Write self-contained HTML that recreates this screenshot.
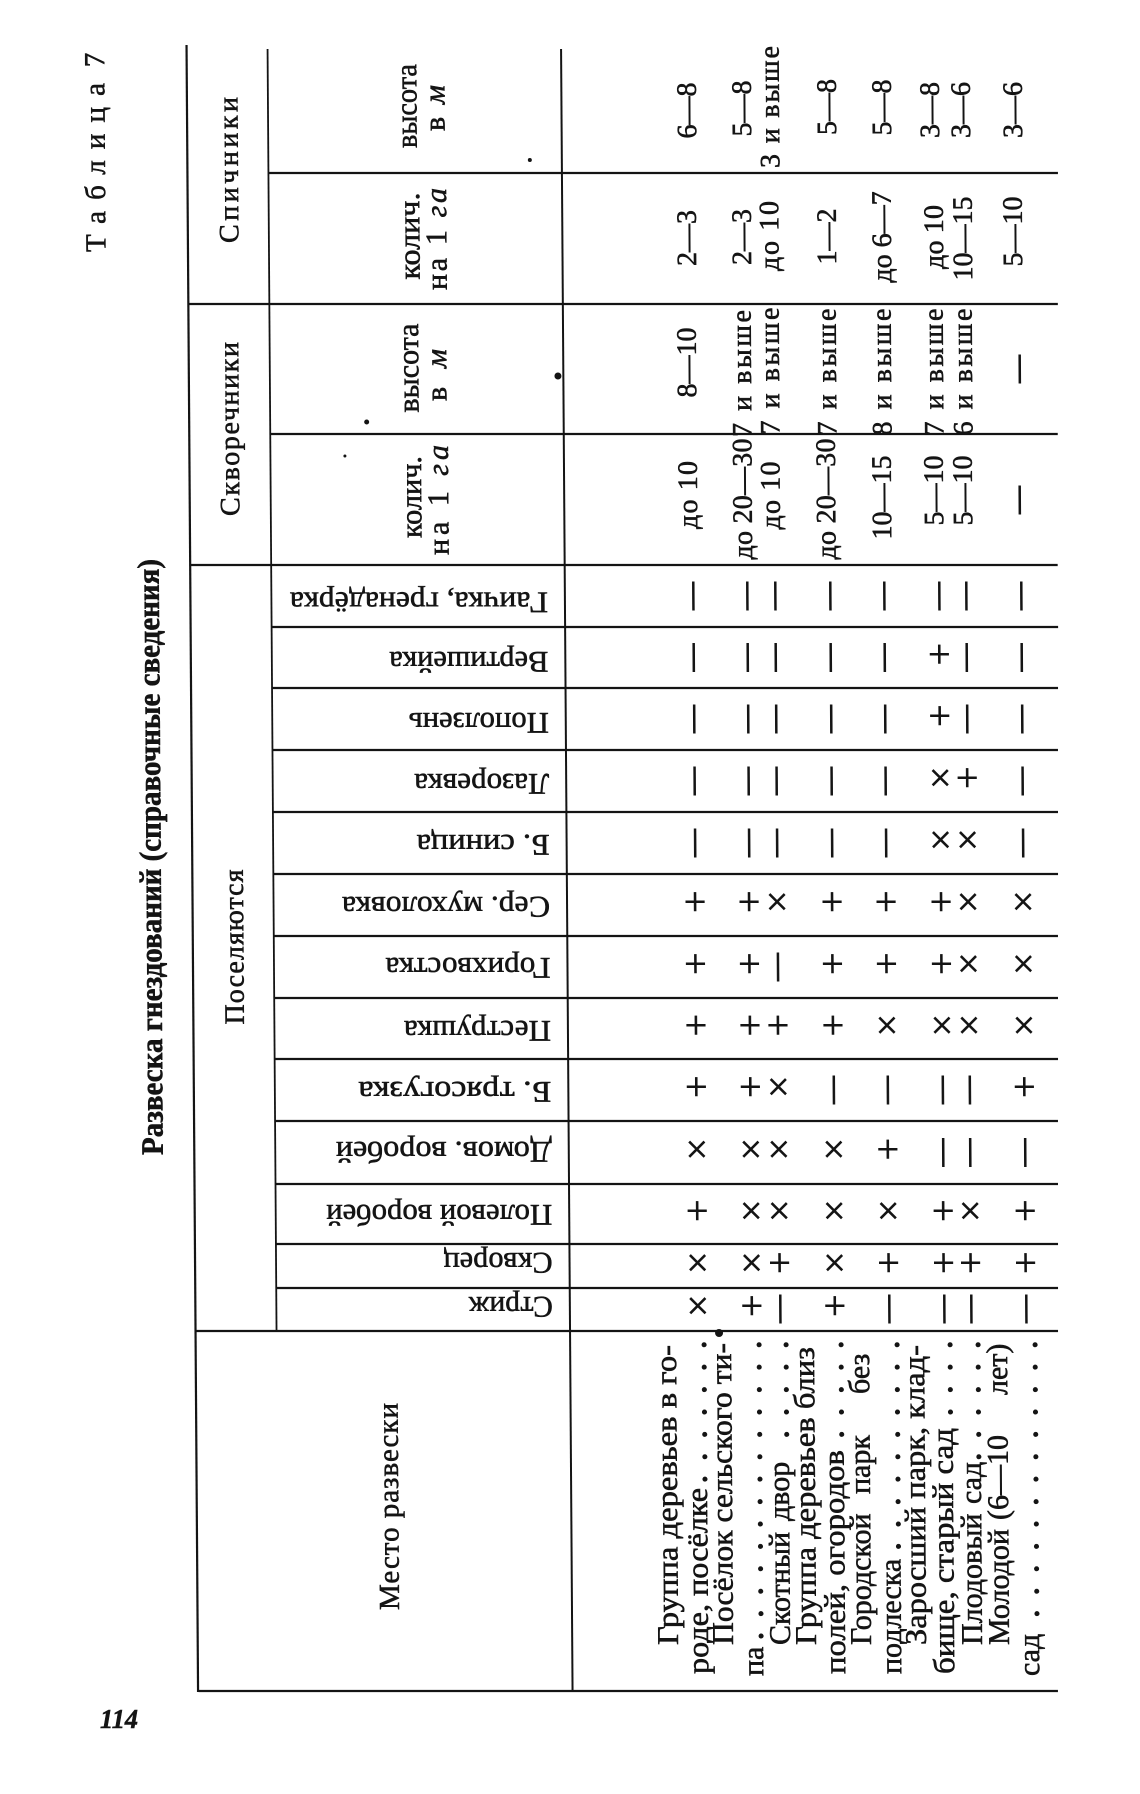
<!DOCTYPE html>
<html><head><meta charset="utf-8">
<style>
html,body{margin:0;padding:0;background:#fff;}
svg{display:block;}
text{font-family:"Liberation Serif","DejaVu Serif",serif;fill:#141414;stroke:#141414;stroke-width:0.55;}
</style></head><body>
<svg width="1140" height="1794" viewBox="0 0 1140 1794" xmlns="http://www.w3.org/2000/svg">
<rect width="1140" height="1794" fill="#fff"/>
<g transform="translate(-6.28,0) skewX(0.401)">
<!-- lines -->
<g stroke="#141414" stroke-width="2.2" fill="none">
<line x1="192.5" y1="45" x2="192.5" y2="1692"/>
<line x1="273.5" y1="49" x2="273.5" y2="1331" stroke-width="1.8"/>
<line x1="567" y1="49" x2="567" y2="1692" stroke-width="2"/>
<line x1="274" y1="173" x2="1063" y2="173"/>
<line x1="193" y1="304" x2="1062" y2="304"/>
<line x1="274" y1="434" x2="1061" y2="434"/>
<line x1="193" y1="565" x2="1060" y2="565"/>
<line x1="274" y1="627" x2="1060" y2="627"/>
<line x1="274" y1="688" x2="1059.5" y2="688"/>
<line x1="274" y1="750" x2="1059" y2="750"/>
<line x1="274" y1="812" x2="1058.6" y2="812"/>
<line x1="274" y1="874" x2="1058.2" y2="874"/>
<line x1="274" y1="936" x2="1057.7" y2="936"/>
<line x1="274" y1="998" x2="1057.3" y2="998"/>
<line x1="274" y1="1059" x2="1056.9" y2="1059"/>
<line x1="274" y1="1121" x2="1056.4" y2="1121"/>
<line x1="274" y1="1184" x2="1056" y2="1184"/>
<line x1="274" y1="1244" x2="1055.6" y2="1244"/>
<line x1="274" y1="1288" x2="1055.3" y2="1288"/>
<line x1="193" y1="1331" x2="1055" y2="1331"/>
<line x1="193" y1="1691" x2="1052.4" y2="1691"/>
</g>
<g fill="#141414">
<circle cx="561.6" cy="376" r="3.5"/>
<circle cx="535" cy="160" r="2"/>
<circle cx="370" cy="422" r="2.5"/>
<circle cx="348" cy="456" r="1.5"/>
<circle cx="716" cy="1333" r="4"/>
</g>

<!-- title -->
<text transform="translate(110,167.5) rotate(-90)" text-anchor="middle" font-size="29" textLength="169" lengthAdjust="spacing">Таблица</text>
<text transform="translate(110,60) rotate(-90)" text-anchor="middle" font-size="29">7</text>
<text transform="translate(161,857) rotate(-90)" text-anchor="middle" font-size="31" font-weight="bold" textLength="596" lengthAdjust="spacingAndGlyphs">Развеска гнездований (справочные сведения)</text>

<!-- group headers -->
<text transform="translate(243,170) rotate(-90)" text-anchor="middle" font-size="28" textLength="146" lengthAdjust="spacing">Спичники</text>
<text transform="translate(242,429) rotate(-90)" text-anchor="middle" font-size="28" textLength="174" lengthAdjust="spacing">Скворечники</text>
<text transform="translate(243,947) rotate(-90)" text-anchor="middle" font-size="28" textLength="155" lengthAdjust="spacing">Поселяются</text>

<!-- subheaders -->
<g font-size="30" text-anchor="middle">
<text transform="translate(422,106) rotate(-90)" textLength="84" lengthAdjust="spacingAndGlyphs">высота</text>
<text transform="translate(450,108) rotate(-90)" textLength="46" lengthAdjust="spacing">в <tspan font-style="italic">м</tspan></text>
<text transform="translate(424,236) rotate(-90)" textLength="87" lengthAdjust="spacingAndGlyphs">колич.</text>
<text transform="translate(451,239) rotate(-90)" textLength="102" lengthAdjust="spacing">на 1 <tspan font-style="italic">га</tspan></text>
<text transform="translate(422,368) rotate(-90)" textLength="89" lengthAdjust="spacingAndGlyphs">высота</text>
<text transform="translate(450,375) rotate(-90)" textLength="52" lengthAdjust="spacing">в <tspan font-style="italic">м</tspan></text>
<text transform="translate(424,497) rotate(-90)" textLength="82" lengthAdjust="spacingAndGlyphs">колич.</text>
<text transform="translate(451,500) rotate(-90)" textLength="110" lengthAdjust="spacing">на 1 <tspan font-style="italic">га</tspan></text>
</g>

<!-- species names (upside down) -->
<g font-size="30">
<text transform="translate(550,592.5) rotate(180)" textLength="258" lengthAdjust="spacingAndGlyphs">Гаичка, гренадёрка</text>
<text transform="translate(550,652) rotate(180)" textLength="159" lengthAdjust="spacingAndGlyphs">Вертишейка</text>
<text transform="translate(550,713) rotate(180)" textLength="140" lengthAdjust="spacingAndGlyphs">Поползень</text>
<text transform="translate(550,774) rotate(180)" textLength="135" lengthAdjust="spacingAndGlyphs">Лазоревка</text>
<text transform="translate(550,835) rotate(180)" textLength="133" lengthAdjust="spacingAndGlyphs">Б. синица</text>
<text transform="translate(550,897) rotate(180)" textLength="208" lengthAdjust="spacingAndGlyphs">Сер. мухоловка</text>
<text transform="translate(550,958) rotate(180)" textLength="165" lengthAdjust="spacingAndGlyphs">Горихвостка</text>
<text transform="translate(550,1021) rotate(180)" textLength="147" lengthAdjust="spacingAndGlyphs">Пеструшка</text>
<text transform="translate(550,1082) rotate(180)" textLength="193" lengthAdjust="spacingAndGlyphs">Б. трясогузка</text>
<text transform="translate(550,1142) rotate(180)" textLength="216" lengthAdjust="spacingAndGlyphs">Домов. воробей</text>
<text transform="translate(550,1205) rotate(180)" textLength="226" lengthAdjust="spacingAndGlyphs">Полевой воробей</text>
<text transform="translate(550,1253) rotate(180)" textLength="109" lengthAdjust="spacingAndGlyphs">Скворец</text>
<text transform="translate(550,1297) rotate(180)" textLength="84" lengthAdjust="spacingAndGlyphs">Стриж</text>
</g>

<!-- Место развески header -->
<text transform="translate(394,1506.5) rotate(-90)" text-anchor="middle" font-size="29" textLength="207" lengthAdjust="spacing">Место развески</text>

<!-- values -->
<g font-size="28" text-anchor="middle">
<text transform="translate(701.5,110.5) rotate(-90)">6—8</text>
<text transform="translate(756.5,108.5) rotate(-90)">5—8</text>
<text transform="translate(784.5,107) rotate(-90)" textLength="122" lengthAdjust="spacing">3 и выше</text>
<text transform="translate(841.5,107) rotate(-90)">5—8</text>
<text transform="translate(896.5,107.5) rotate(-90)">5—8</text>
<text transform="translate(944.5,110) rotate(-90)">3—8</text>
<text transform="translate(975.5,110) rotate(-90)">3—6</text>
<text transform="translate(1027.5,110) rotate(-90)">3—6</text>

<text transform="translate(700.6,238) rotate(-90)">2—3</text>
<text transform="translate(755.6,237) rotate(-90)">2—3</text>
<text transform="translate(783,236) rotate(-90)" textLength="70" lengthAdjust="spacing">до 10</text>
<text transform="translate(840.6,236.5) rotate(-90)">1—2</text>
<text transform="translate(895.6,237) rotate(-90)">до 6—7</text>
<text transform="translate(947.6,237) rotate(-90)" textLength="64" lengthAdjust="spacing">до 10</text>
<text transform="translate(976.6,238.5) rotate(-90)">10—15</text>
<text transform="translate(1026.6,231.5) rotate(-90)">5—10</text>

<text transform="translate(699.7,362.5) rotate(-90)">8—10</text>
<text transform="translate(754.7,373.5) rotate(-90)" textLength="127" lengthAdjust="spacing">7 и выше</text>
<text transform="translate(782.7,371) rotate(-90)" textLength="127" lengthAdjust="spacing">7 и выше</text>
<text transform="translate(839.7,372) rotate(-90)" textLength="127" lengthAdjust="spacing">7 и выше</text>
<text transform="translate(894.7,372) rotate(-90)" textLength="127" lengthAdjust="spacing">8 и выше</text>
<text transform="translate(946.7,372) rotate(-90)" textLength="127" lengthAdjust="spacing">7 и выше</text>
<text transform="translate(975.7,372) rotate(-90)" textLength="127" lengthAdjust="spacing">6 и выше</text>
<text transform="translate(1030,369) rotate(-90)" font-weight="bold">—</text>

<text transform="translate(699.8,495) rotate(-90)" textLength="68" lengthAdjust="spacing">до 10</text>
<text transform="translate(754.5,499) rotate(-90)" textLength="121" lengthAdjust="spacing">до 20—30</text>
<text transform="translate(782.5,495.5) rotate(-90)" textLength="68" lengthAdjust="spacing">до 10</text>
<text transform="translate(838,499) rotate(-90)" textLength="121" lengthAdjust="spacing">до 20—30</text>
<text transform="translate(893.8,497.5) rotate(-90)">10—15</text>
<text transform="translate(945.8,490.5) rotate(-90)">5—10</text>
<text transform="translate(974.8,490.5) rotate(-90)">5—10</text>
<text transform="translate(1029,500) rotate(-90)" font-weight="bold">—</text>
</g>

<!-- marks: dashes -->
<g font-size="28" font-weight="bold" text-anchor="middle">
<text transform="translate(702,596) rotate(-90)">—</text>
<text transform="translate(756,596) rotate(-90)">—</text>
<text transform="translate(784,596) rotate(-90)">—</text>
<text transform="translate(839,596) rotate(-90)">—</text>
<text transform="translate(893,596) rotate(-90)">—</text>
<text transform="translate(948,596) rotate(-90)">—</text>
<text transform="translate(975,596) rotate(-90)">—</text>
<text transform="translate(1030,596) rotate(-90)">—</text>

<text transform="translate(702,657.5) rotate(-90)">—</text>
<text transform="translate(756,657.5) rotate(-90)">—</text>
<text transform="translate(784,657.5) rotate(-90)">—</text>
<text transform="translate(839,657.5) rotate(-90)">—</text>
<text transform="translate(893,657.5) rotate(-90)">—</text>
<text transform="translate(975,657.5) rotate(-90)">—</text>
<text transform="translate(1030,657.5) rotate(-90)">—</text>

<text transform="translate(702,719) rotate(-90)">—</text>
<text transform="translate(756,719) rotate(-90)">—</text>
<text transform="translate(784,719) rotate(-90)">—</text>
<text transform="translate(839,719) rotate(-90)">—</text>
<text transform="translate(893,719) rotate(-90)">—</text>
<text transform="translate(975,719) rotate(-90)">—</text>
<text transform="translate(1030,719) rotate(-90)">—</text>

<text transform="translate(702,781) rotate(-90)">—</text>
<text transform="translate(756,781) rotate(-90)">—</text>
<text transform="translate(784,781) rotate(-90)">—</text>
<text transform="translate(839,781) rotate(-90)">—</text>
<text transform="translate(893,781) rotate(-90)">—</text>
<text transform="translate(1030,781) rotate(-90)">—</text>

<text transform="translate(702,843) rotate(-90)">—</text>
<text transform="translate(756,843) rotate(-90)">—</text>
<text transform="translate(784,843) rotate(-90)">—</text>
<text transform="translate(839,843) rotate(-90)">—</text>
<text transform="translate(893,843) rotate(-90)">—</text>
<text transform="translate(1030,843) rotate(-90)">—</text>

<text transform="translate(784,967) rotate(-90)">—</text>

<text transform="translate(839,1090) rotate(-90)">—</text>
<text transform="translate(893,1090) rotate(-90)">—</text>
<text transform="translate(948,1090) rotate(-90)">—</text>
<text transform="translate(975,1090) rotate(-90)">—</text>

<text transform="translate(948,1152.5) rotate(-90)">—</text>
<text transform="translate(975,1152.5) rotate(-90)">—</text>
<text transform="translate(1030,1152.5) rotate(-90)">—</text>

<text transform="translate(784,1309) rotate(-90)">—</text>
<text transform="translate(893,1309) rotate(-90)">—</text>
<text transform="translate(948,1309) rotate(-90)">—</text>
<text transform="translate(975,1309) rotate(-90)">—</text>
<text transform="translate(1030,1309) rotate(-90)">—</text>
</g>

<!-- marks: plus / cross -->
<g font-size="40" text-anchor="middle">
<text x="941" y="667.5">+</text>
<text x="941" y="729">+</text>
<text x="941" y="791">×</text><text x="968" y="791">+</text>
<text x="941" y="853">×</text><text x="968" y="853">×</text>

<text x="695" y="915">+</text><text x="749" y="915">+</text><text x="777" y="915">×</text><text x="832" y="915">+</text><text x="886" y="915">+</text><text x="941" y="915">+</text><text x="968" y="915">×</text><text x="1023" y="915">×</text>

<text x="695" y="977">+</text><text x="749" y="977">+</text><text x="832" y="977">+</text><text x="886" y="977">+</text><text x="941" y="977">+</text><text x="968" y="977">×</text><text x="1023" y="977">×</text>

<text x="695" y="1038.5">+</text><text x="749" y="1038.5">+</text><text x="777" y="1038.5">+</text><text x="832" y="1038.5">+</text><text x="886" y="1038.5">×</text><text x="941" y="1038.5">×</text><text x="968" y="1038.5">×</text><text x="1023" y="1038.5">×</text>

<text x="695" y="1100">+</text><text x="749" y="1100">+</text><text x="777" y="1100">×</text><text x="1023" y="1100">+</text>

<text x="695" y="1162.5">×</text><text x="749" y="1162.5">×</text><text x="777" y="1162.5">×</text><text x="832" y="1162.5">×</text><text x="886" y="1162.5">+</text>

<text x="695" y="1224">+</text><text x="749" y="1224">×</text><text x="777" y="1224">×</text><text x="832" y="1224">×</text><text x="886" y="1224">×</text><text x="941" y="1224">+</text><text x="968" y="1224">×</text><text x="1023" y="1224">+</text>

<text x="695" y="1276">×</text><text x="749" y="1276">×</text><text x="777" y="1276">+</text><text x="832" y="1276">×</text><text x="886" y="1276">+</text><text x="941" y="1276">+</text><text x="968" y="1276">+</text><text x="1023" y="1276">+</text>

<text x="695" y="1319">×</text><text x="749" y="1319">+</text><text x="832" y="1319">+</text>
</g>

<!-- place texts -->
<g font-size="30">
<text transform="translate(672.8,1645) rotate(-90)" textLength="300" lengthAdjust="spacingAndGlyphs">Группа деревьев в го-</text>
<text transform="translate(702.8,1674) rotate(-90)" textLength="186" lengthAdjust="spacingAndGlyphs">роде, посёлке</text>
<text transform="translate(727.8,1645) rotate(-90)" textLength="302" lengthAdjust="spacingAndGlyphs">Посёлок сельского ти-</text>
<text transform="translate(757.8,1676) rotate(-90)">па</text>
<text transform="translate(784.8,1645) rotate(-90)">Скотный</text>
<text transform="translate(784.8,1521) rotate(-90)">двор</text>
<text transform="translate(810.8,1645) rotate(-90)" textLength="298" lengthAdjust="spacingAndGlyphs">Группа деревьев близ</text>
<text transform="translate(839.8,1674) rotate(-90)" textLength="224" lengthAdjust="spacingAndGlyphs">полей, огородов</text>
<text transform="translate(865.8,1645) rotate(-90)">Городской</text>
<text transform="translate(865.8,1494) rotate(-90)">парк</text>
<text transform="translate(865.8,1394) rotate(-90)">без</text>
<text transform="translate(895.8,1674) rotate(-90)">подлеска</text>
<text transform="translate(920.8,1645) rotate(-90)" textLength="300" lengthAdjust="spacingAndGlyphs">Заросший парк, клад-</text>
<text transform="translate(948.8,1674) rotate(-90)" textLength="246" lengthAdjust="spacingAndGlyphs">бище, старый сад</text>
<text transform="translate(976.8,1645) rotate(-90)">Плодовый</text>
<text transform="translate(976.8,1504) rotate(-90)">сад</text>
<text transform="translate(1003.8,1645) rotate(-90)">Молодой</text>
<text transform="translate(1003.8,1520) rotate(-90)">(6—10</text>
<text transform="translate(1003.8,1395) rotate(-90)">лет)</text>
<text transform="translate(1033.8,1676) rotate(-90)">сад</text>
</g>

<!-- dot leaders -->
<g font-size="28" font-weight="bold">
<text transform="translate(702.8,0) rotate(-90)" x="-1348.3 -1370.7 -1393.1 -1415.5 -1437.9 -1460.3 -1482.7" y="0">.......</text>
<text transform="translate(757.8,0) rotate(-90)" x="-1348.3 -1370.7 -1393.1 -1415.5 -1437.9 -1460.3 -1482.7 -1505.1 -1527.5 -1549.9 -1572.3 -1594.7 -1617.1 -1639.5" y="0">..............</text>
<text transform="translate(784.8,0) rotate(-90)" x="-1348.3 -1370.7 -1393.1 -1415.5 -1437.9" y="0">.....</text>
<text transform="translate(839.8,0) rotate(-90)" x="-1348.3 -1370.7 -1393.1 -1415.5 -1437.9" y="0">.....</text>
<text transform="translate(895.8,0) rotate(-90)" x="-1348.3 -1370.7 -1393.1 -1415.5 -1437.9 -1460.3 -1482.7 -1505.1 -1527.5 -1549.9" y="0">..........</text>
<text transform="translate(948.8,0) rotate(-90)" x="-1348.3 -1370.7 -1393.1 -1415.5" y="0">....</text>
<text transform="translate(976.8,0) rotate(-90)" x="-1348.3 -1370.7 -1393.1 -1415.5 -1437.9 -1460.3" y="0">......</text>
<text transform="translate(1033.8,0) rotate(-90)" x="-1348.3 -1370.7 -1393.1 -1415.5 -1437.9 -1460.3 -1482.7 -1505.1 -1527.5 -1549.9 -1572.3 -1594.7 -1617.1" y="0">.............</text>
</g>
</g>

<!-- page number -->
<text x="100" y="1728" font-size="27" font-weight="bold" font-style="italic" textLength="38" lengthAdjust="spacingAndGlyphs">114</text>
</svg>
</body></html>
